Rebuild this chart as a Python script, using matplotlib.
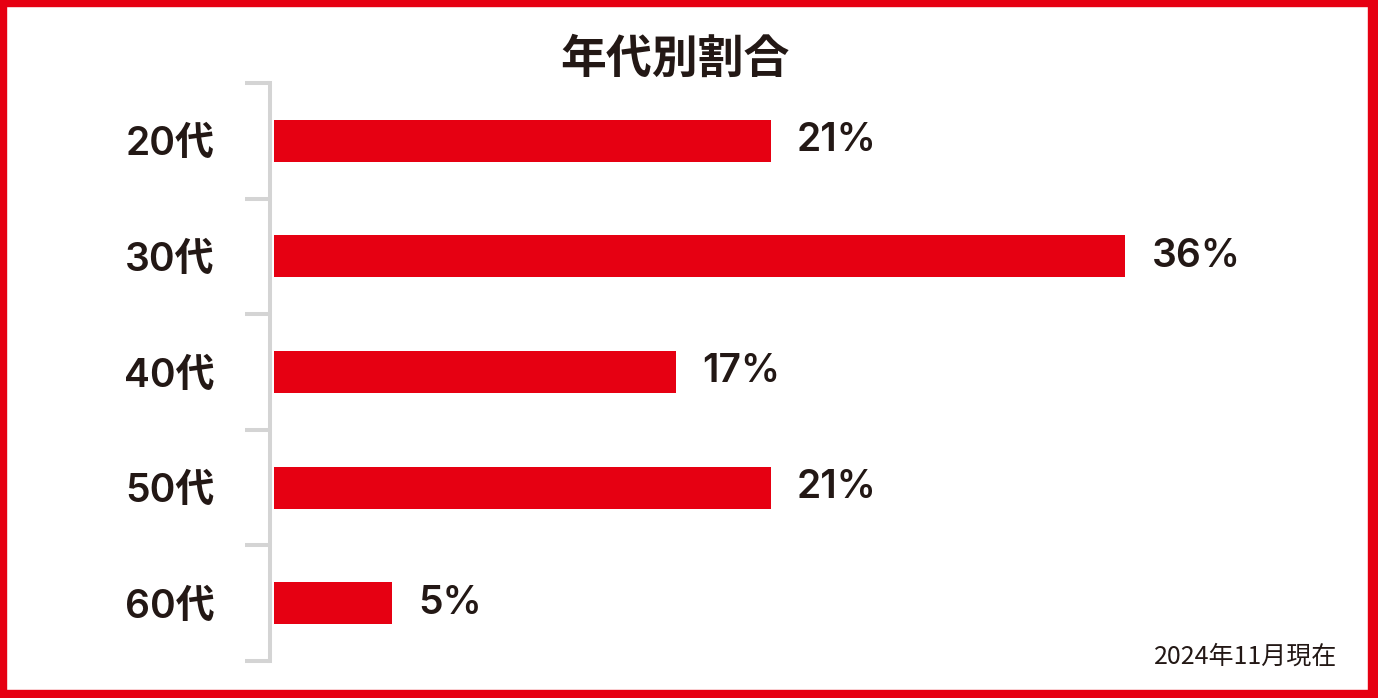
import matplotlib.pyplot as plt
from matplotlib.patches import Rectangle
from matplotlib.ticker import FixedLocator

plt.rcParams['font.family'] = ['Noto Sans CJK JP', 'DejaVu Sans']
LABEL_FONT = ['Inter', 'Noto Sans CJK JP']

# data
age_groups = ['20代', '30代', '40代', '50代', '60代']
shares = [21, 36, 17, 21, 5]
title = '年代別割合'
note = '2024年11月現在'

RED = '#e60012'
INK = '#231815'
GRAY = '#d4d4d4'

W, H = 1378, 698
fig = plt.figure(figsize=(W / 100, H / 100), dpi=100)

# axes placed in pixels: left 274, top 83, bottom 661
ax = fig.add_axes([274 / W, (H - 661) / H, 1100 / W, 578 / H])
ypos = list(range(len(age_groups)))
ax.barh(ypos, shares, height=0.364, color=RED)
ax.set_xlim(0, 1100 / 23.65)
ax.set_ylim(len(age_groups) - 0.5, -0.5)

for y, v in zip(ypos, shares):
    ax.annotate(f'{v}%', (v, y), xytext=(19, 0), textcoords='offset points',
                ha='left', va='center', fontsize=28, color=INK,
                family=LABEL_FONT, weight='semibold')

# bracket-style axis
for s in ['top', 'right', 'bottom']:
    ax.spines[s].set_visible(False)
ax.spines['left'].set_position(('outward', 3))
ax.spines['left'].set_color(GRAY)
ax.spines['left'].set_linewidth(2.9)
ax.set_xticks([])
ax.set_yticks(ypos)
ax.set_yticklabels(age_groups, fontsize=28, color=INK, family=LABEL_FONT,
                   weight='semibold')
ax.tick_params(axis='y', which='major', length=0, pad=40)
ax.yaxis.set_minor_locator(FixedLocator([i - 0.5 for i in range(len(age_groups) + 1)]))
ax.tick_params(axis='y', which='minor', length=18, width=2.9, color=GRAY, direction='out')

fig.text(675 / W, 1 - 60 / H, title, ha='center', va='center',
         fontsize=33, weight='bold', color=INK)
fig.text(1337 / W, 1 - 657 / H, note, ha='right', va='center',
         fontsize=18, color=INK)

# red frame
for x0, y0, w, h in [(0, 0, W, 8), (0, H - 6, W, 6), (0, 0, 6, H), (W - 10, 0, 10, H)]:
    fig.patches.append(Rectangle((x0, y0), w, h, transform=None, color=RED, zorder=10))

fig.savefig('out.png', dpi=100)
